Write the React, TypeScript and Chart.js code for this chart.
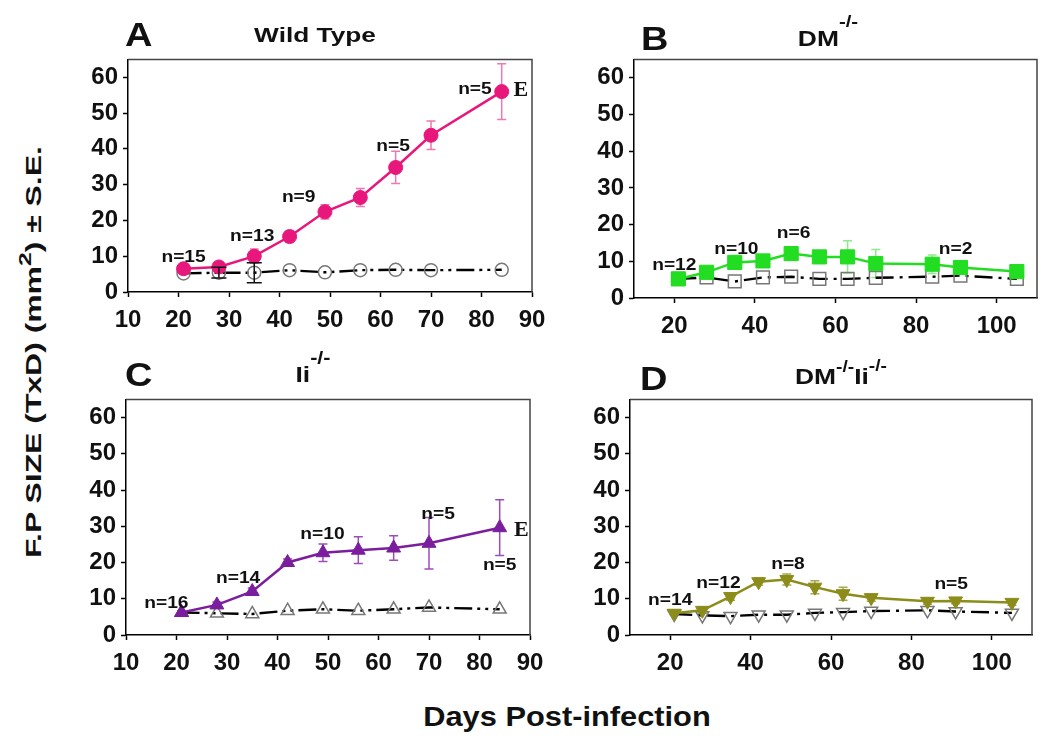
import React, { useEffect, useRef } from 'react';
import { Chart, registerables } from 'chart.js';

Chart.register(...registerables);

const FONT = '"Liberation Sans", Arial, Helvetica, sans-serif';
const SERIF = '"Liberation Serif", "Times New Roman", serif';

// ---------- Tick values ----------
const xTicksAC = [10, 20, 30, 40, 50, 60, 70, 80, 90];
const xTicksBD = [20, 40, 60, 80, 100];
const yTicks = [0, 10, 20, 30, 40, 50, 60];

// ---------- Panel A : Wild Type ----------
const daysA = [21, 28, 35, 42, 49, 56, 63, 70, 84];
const wtMean = [6.5, 7, 10, 15.5, 22.4, 26.4, 34.8, 43.8, 56];
const wtErr = [0.8, 1, 2, 1.5, 2, 2.5, 4.5, 4, 7.8];
const wtCtrl = [5.2, 5.4, 5.4, 6.1, 5.5, 6.1, 6.2, 6.1, 6.2];
const wtCtrlErr = [0, 1.5, 2.8, 0, 0, 0, 0, 0, 0];
const nTextA = ['n=15', 'n=13', 'n=9', 'n=5', 'n=5'];
const nXA = [21, 34.6, 43.8, 62.5, 78.7];
const nYA = [9.7, 15.4, 26.3, 40.6, 56.6];

// ---------- Panel B : DM-/- ----------
const daysB = [21, 28, 35, 42, 49, 56, 63, 70, 84, 91, 105];
const dmMean = [5.2, 7, 9.7, 10.1, 12.1, 11.2, 11.2, 9.4, 9.2, 8.3, 7.2];
const dmErr = [0.5, 1, 1, 1, 1.8, 1.5, 4.4, 3.8, 2.5, 1, 0.8];
const dmCtrl = [5.2, 5.6, 4.5, 5.6, 5.8, 5.2, 5.2, 5.5, 5.8, 6.1, 5.2];
const dmCtrlErr = [0, 0, 0, 0, 0, 0, 0, 0, 0, 0, 0];
const nTextB = ['n=12', 'n=10', 'n=6', 'n=2'];
const nXB = [20, 35.4, 49.6, 89.8];
const nYB = [8.8, 13.3, 17.6, 13.3];

// ---------- Panel C : Ii-/- ----------
const daysC = [21, 28, 35, 42, 49, 56, 63, 70, 84];
const iiMean = [6.2, 8.3, 12, 20, 22.7, 23.4, 24, 25.3, 29.6];
const iiErr = [0.5, 0.8, 1, 1, 2.4, 3.7, 3.4, 7.1, 7.7];
const iiCtrl = [6.2, 6, 5.8, 6.7, 7.1, 6.7, 7.1, 7.6, 7.1];
const iiCtrlErr = [0, 0, 0, 0, 0, 0, 0, 0, 0];
const nTextC = ['n=16', 'n=14', 'n=10', 'n=5', 'n=5'];
const nXC = [18, 32.2, 48.9, 71.8, 84];
const nYC = [8.8, 15.5, 27.7, 33.3, 19.2];

// ---------- Panel D : DM-/-Ii-/- ----------
const daysD = [21, 28, 35, 42, 49, 56, 63, 70, 84, 91, 105];
const dkMean = [6, 6.8, 10.6, 14.7, 15.3, 13.2, 11.4, 10.3, 9.3, 9.4, 9.0];
const dkErr = [0.5, 0.8, 1, 1, 1.5, 1.8, 1.8, 1, 0.8, 0.8, 0.8];
const dkCtrl = [5.8, 5.4, 5.2, 5.6, 5.6, 6.1, 6.3, 6.6, 6.8, 6.5, 6.1];
const dkCtrlErr = [0, 0, 0, 0, 0, 0, 0, 0, 0, 0, 0];
const nTextD = ['n=14', 'n=12', 'n=8', 'n=5'];
const nXD = [20, 32, 49.3, 89.9];
const nYD = [9.4, 14.3, 19.4, 13.8];

type Panel = {
  canvas: { left: number; top: number; width: number; height: number };
  area: { left: number; top: number; right: number; bottom: number };
  xMin: number; xMax: number; xTicks: number[];
  days: number[]; mean: number[]; err: number[]; ctrl: number[]; ctrlErr: number[];
  nText: string[]; nX: number[]; nY: number[];
  eLabels: { x: number; y: number }[];
  color: string; errColor: string;
  pointStyle: string; radius: number; ctrlRadius: number; rotation: number;
  dash: number[];
};

const panels: Panel[] = [
  {
    canvas: { left: 60, top: 40, width: 500, height: 310 },
    area: { left: 128, top: 52, right: 532, bottom: 292 },
    xMin: 10, xMax: 90, xTicks: xTicksAC,
    days: daysA, mean: wtMean, err: wtErr, ctrl: wtCtrl, ctrlErr: wtCtrlErr,
    nText: nTextA, nX: nXA, nY: nYA, eLabels: [{ x: 87.8, y: 56.3 }],
    color: '#E8177B', errColor: '#EE78B0', pointStyle: 'circle', radius: 7, ctrlRadius: 6.5, rotation: 0,
    dash: [18, 5, 3, 5, 3, 5],
  },
  {
    canvas: { left: 570, top: 40, width: 480, height: 310 },
    area: { left: 634, top: 55, right: 1037, bottom: 298 },
    xMin: 10, xMax: 110, xTicks: xTicksBD,
    days: daysB, mean: dmMean, err: dmErr, ctrl: dmCtrl, ctrlErr: dmCtrlErr,
    nText: nTextB, nX: nXB, nY: nYB, eLabels: [],
    color: '#22DD22', errColor: '#8CEB8C', pointStyle: 'rect', radius: 10, ctrlRadius: 9, rotation: 0,
    dash: [18, 6, 3, 6],
  },
  {
    canvas: { left: 60, top: 380, width: 500, height: 320 },
    area: { left: 126, top: 391, right: 530, bottom: 635 },
    xMin: 10, xMax: 90, xTicks: xTicksAC,
    days: daysC, mean: iiMean, err: iiErr, ctrl: iiCtrl, ctrlErr: iiCtrlErr,
    nText: nTextC, nX: nXC, nY: nYC, eLabels: [{ x: 88.3, y: 28.8 }],
    color: '#7B1E9E', errColor: '#9A4FB8', pointStyle: 'triangle', radius: 8, ctrlRadius: 7.5, rotation: 0,
    dash: [18, 5, 3, 5, 3, 5],
  },
  {
    canvas: { left: 570, top: 380, width: 480, height: 320 },
    area: { left: 630, top: 394, right: 1032, bottom: 635 },
    xMin: 10, xMax: 110, xTicks: xTicksBD,
    days: daysD, mean: dkMean, err: dkErr, ctrl: dkCtrl, ctrlErr: dkCtrlErr,
    nText: nTextD, nX: nXD, nY: nYD, eLabels: [],
    color: '#8C8C1A', errColor: '#A8A850', pointStyle: 'triangle', radius: 8, ctrlRadius: 7.5, rotation: 180,
    dash: [18, 6, 3, 6],
  },
];

function drawErrs(ctx: CanvasRenderingContext2D, xs: any, ys: any, days: number[], vals: number[], errs: number[], color: string, cap: number, lw: number) {
  ctx.save();
  ctx.strokeStyle = color;
  ctx.lineWidth = lw;
  ctx.setLineDash([]);
  days.forEach((d, i) => {
    const e = errs[i];
    if (!e) return;
    const px = xs.getPixelForValue(d);
    const top = ys.getPixelForValue(vals[i] + e);
    const bot = ys.getPixelForValue(vals[i] - e);
    ctx.beginPath();
    ctx.moveTo(px, top); ctx.lineTo(px, bot);
    ctx.moveTo(px - cap, top); ctx.lineTo(px + cap, top);
    ctx.moveTo(px - cap, bot); ctx.lineTo(px + cap, bot);
    ctx.stroke();
  });
  ctx.restore();
}

function drawText(ctx: CanvasRenderingContext2D, text: string, px: number, py: number, font: string, sx: number) {
  ctx.save();
  ctx.translate(px, py);
  ctx.scale(sx, 1);
  ctx.font = font;
  ctx.fillStyle = '#111';
  ctx.textAlign = 'center';
  ctx.textBaseline = 'middle';
  ctx.fillText(text, 0, 0);
  ctx.restore();
}

const decoPlugin = {
  id: 'deco',
  beforeDatasetsDraw(chart: any, _a: any, o: any) {
    const { ctx, chartArea: a, scales } = chart;
    ctx.save();
    ctx.strokeStyle = '#444';
    ctx.lineWidth = 1.5;
    ctx.beginPath();
    ctx.moveTo(a.left, a.top);
    ctx.lineTo(a.right, a.top);
    ctx.lineTo(a.right, a.bottom);
    ctx.stroke();
    ctx.restore();
    drawErrs(ctx, scales.x, scales.y, o.days, o.mean, o.err, o.errColor, 4.5, 1.5);
  },
  afterDatasetsDraw(chart: any, _a: any, o: any) {
    const { ctx, scales } = chart;
    drawErrs(ctx, scales.x, scales.y, o.days, o.ctrl, o.ctrlErr, '#111', 7.5, 1.5);
    o.nText.forEach((t: string, i: number) => {
      drawText(ctx, t, scales.x.getPixelForValue(o.nX[i]), scales.y.getPixelForValue(o.nY[i]), `bold 16px ${FONT}`, 1.2);
    });
    o.eLabels.forEach((e: any) => {
      drawText(ctx, 'E', scales.x.getPixelForValue(e.x), scales.y.getPixelForValue(e.y), `bold 21px ${SERIF}`, 1.05);
    });
  },
};

function PanelChart({ p }: { p: Panel }) {
  const ref = useRef<HTMLCanvasElement>(null);
  useEffect(() => {
    const c = p.canvas, a = p.area;
    const yW = a.left - c.left;
    const xH = c.top + c.height - a.bottom;
    const tickFont = { family: FONT, size: 24, weight: 'bold' as const };
    const chart = new Chart(ref.current!, {
      type: 'line',
      data: {
        datasets: [
          {
            label: 'mean',
            data: p.days.map((d, i) => ({ x: d, y: p.mean[i] })),
            borderColor: p.color,
            backgroundColor: p.color,
            borderWidth: 2.5,
            pointStyle: p.pointStyle as any,
            pointRadius: p.radius,
            pointRotation: p.rotation,
            pointBackgroundColor: p.color,
            pointBorderColor: p.color,
            pointBorderWidth: 1,
            tension: 0,
            clip: false as any,
            order: 0,
          },
          {
            label: 'control',
            data: p.days.map((d, i) => ({ x: d, y: p.ctrl[i] })),
            borderColor: '#000',
            borderWidth: 2.4,
            borderDash: p.dash,
            pointStyle: p.pointStyle as any,
            pointRadius: p.ctrlRadius,
            pointRotation: p.rotation,
            pointBackgroundColor: 'rgba(255,255,255,0)',
            pointBorderColor: '#777',
            pointBorderWidth: 1.5,
            tension: 0,
            clip: false as any,
            order: 1,
          },
        ],
      },
      options: {
        responsive: false,
        animation: false,
        devicePixelRatio: 1,
        layout: { padding: { left: 0, top: a.top - c.top, right: c.left + c.width - a.right, bottom: 0 } },
        plugins: {
          legend: { display: false },
          tooltip: { enabled: false },
          deco: {
            days: p.days, mean: p.mean, err: p.err, ctrl: p.ctrl, ctrlErr: p.ctrlErr,
            errColor: p.errColor, nText: p.nText, nX: p.nX, nY: p.nY, eLabels: p.eLabels,
          },
        } as any,
        scales: {
          x: {
            type: 'linear',
            min: p.xMin,
            max: p.xMax,
            afterBuildTicks: (s: any) => { s.ticks = p.xTicks.map((v) => ({ value: v })); },
            afterFit: (s: any) => { s.height = xH; },
            grid: { drawOnChartArea: false, drawTicks: true, tickLength: 5, tickColor: '#000', tickWidth: 1.5 },
            border: { display: true, color: '#000', width: 1.5 },
            ticks: { font: tickFont, color: '#111', padding: 9, maxRotation: 0, autoSkip: false },
          },
          y: {
            type: 'linear',
            min: 0,
            max: 65,
            afterBuildTicks: (s: any) => { s.ticks = yTicks.map((v) => ({ value: v })); },
            afterFit: (s: any) => { s.width = yW; },
            grid: { drawOnChartArea: false, drawTicks: true, tickLength: 5, tickColor: '#000', tickWidth: 1.5 },
            border: { display: true, color: '#000', width: 1.5 },
            ticks: { font: tickFont, color: '#111', padding: 5, autoSkip: false },
          },
        },
      },
      plugins: [decoPlugin as any],
    });
    return () => chart.destroy();
  }, [p]);
  return (
    <canvas
      ref={ref}
      width={p.canvas.width}
      height={p.canvas.height}
      style={{ position: 'absolute', left: p.canvas.left, top: p.canvas.top, width: p.canvas.width, height: p.canvas.height }}
    />
  );
}

function Txt({ x, baseline, size, sx = 1, align = 'center', family = FONT, children }: any) {
  const top = baseline - 0.8465 * size;
  return (
    <div
      style={{
        position: 'absolute', left: x, top, fontFamily: family, fontWeight: 'bold', fontSize: size,
        lineHeight: `${size}px`, whiteSpace: 'nowrap', color: '#111',
        transform: `${align === 'center' ? 'translateX(-50%) ' : ''}scaleX(${sx})`,
        transformOrigin: align === 'center' ? 'center' : 'left',
      }}
    >
      {children}
    </div>
  );
}

const Sup = ({ raise, size, children }: any) => (
  <span style={{ fontSize: size, position: 'relative', top: -raise }}>{children}</span>
);

export default function App() {
  return (
    <div style={{ position: 'absolute', left: 0, top: 0, width: 1050, height: 744, background: '#fff', overflow: 'hidden' }}>
      {panels.map((p, i) => <PanelChart key={i} p={p} />)}

      {/* Panel letters */}
      <Txt x={125} baseline={46} size={33} sx={1.15} align="left">A</Txt>
      <Txt x={641} baseline={50} size={33} sx={1.15} align="left">B</Txt>
      <Txt x={125} baseline={386} size={33} sx={1.15} align="left">C</Txt>
      <Txt x={640} baseline={390} size={33} sx={1.15} align="left">D</Txt>

      {/* Panel titles */}
      <Txt x={315} baseline={42} size={21} sx={1.25}>Wild Type</Txt>
      <Txt x={828} baseline={47} size={22} sx={1.2}>DM<Sup raise={19} size={17}>-/-</Sup></Txt>
      <Txt x={313} baseline={383} size={22} sx={1.2}>Ii<Sup raise={18} size={18}>-/-</Sup></Txt>
      <Txt x={841} baseline={385} size={22} sx={1.2}>
        DM<Sup raise={12} size={16}>-/-</Sup>Ii<Sup raise={13} size={16}>-/-</Sup>
      </Txt>

      {/* Axis titles */}
      <div
        style={{
          position: 'absolute', left: 35, top: 352, fontFamily: FONT, fontWeight: 'bold', fontSize: 22,
          lineHeight: '22px', whiteSpace: 'nowrap', color: '#111',
          transform: 'translate(-50%, -50%) rotate(-90deg) scaleX(1.45)', transformOrigin: 'center',
        }}
      >
        F.P SIZE (TxD) (mm<span style={{ fontSize: 17, position: 'relative', top: -10 }}>2</span>) ± S.E.
      </div>
      <Txt x={567} baseline={727} size={28} sx={1.1}>Days Post-infection</Txt>
    </div>
  );
}
